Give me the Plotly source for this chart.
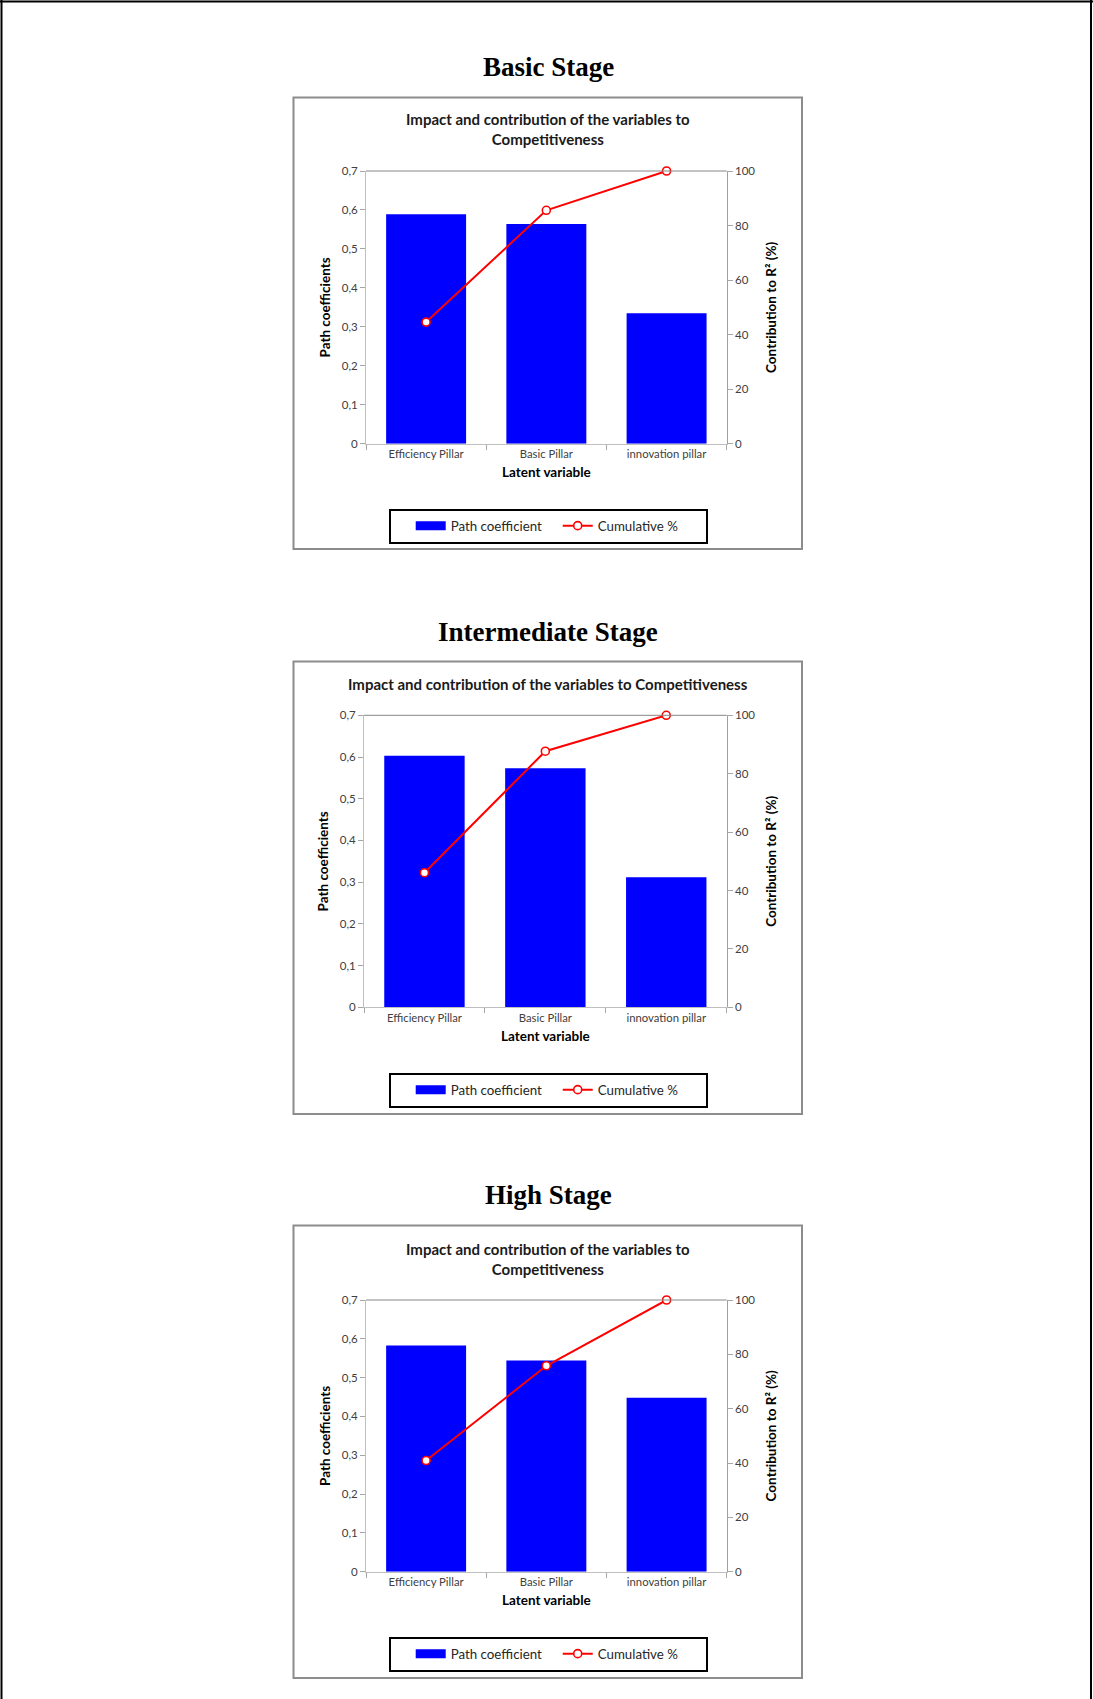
import plotly.graph_objects as go

# ---- data ----
categories = ["Efficiency Pillar", "Basic Pillar", "innovation pillar"]
stage_names = ["Basic Stage", "Intermediate Stage", "High Stage"]
chart_titles = [
    "Impact and contribution of the variables to<br>Competitiveness",
    "Impact and contribution of the variables to Competitiveness",
    "Impact and contribution of the variables to<br>Competitiveness",
]
path_basic = [0.589, 0.564, 0.335]
path_intermediate = [0.603, 0.573, 0.312]
path_high = [0.583, 0.544, 0.448]
cum_basic = [44.6, 85.6, 100]
cum_intermediate = [46.1, 87.7, 100]
cum_high = [40.9, 75.8, 100]

path_values = [path_basic, path_intermediate, path_high]
cum_values = [cum_basic, cum_intermediate, cum_high]

left_ticks = [0, 0.1, 0.2, 0.3, 0.4, 0.5, 0.6, 0.7]
right_ticks = [0, 20, 40, 60, 80, 100]

# ---- page geometry (pixels) ----
W, H = 1093, 1699
BLUE = "#0000FF"
RED = "#FF0000"
TICK_COLOR = "#404040"
TICKMARK = "#a6a6a6"
FONT = "Lato"

# per chart: box (x0, y0, x1, y1), plot area (x0, y0, x1, y1), stage title y,
# chart title y, legend centre y
panels = [
    dict(box=(293.5, 97.5, 802, 549), plot=(366, 171, 726.7, 443.7),
         stage_y=67, title_y=129, legend_y=526),
    dict(box=(293.5, 661.5, 802, 1114), plot=(364, 715.3, 726.7, 1007.3),
         stage_y=632, title_y=684, legend_y=1090),
    dict(box=(293.5, 1225.5, 802, 1678), plot=(366, 1300, 726.7, 1571.7),
         stage_y=1195, title_y=1259, legend_y=1654),
]


def px_x(v):
    return v / W


def px_y(v):
    return 1 - v / H


fig = go.Figure()
shapes = []
annotations = []
layout_axes = {}
n_cat = len(categories)
# category boundaries, where the x tick marks sit
boundaries = [k - 0.5 for k in range(n_cat + 1)]

for i, p in enumerate(panels):
    n = i + 1
    xname = "x" if n == 1 else f"x{n}"
    yl_idx = 2 * i + 1
    yr_idx = 2 * i + 2
    yl = "y" if yl_idx == 1 else f"y{yl_idx}"
    yr = f"y{yr_idx}"
    legend_name = "legend" if n == 1 else f"legend{n}"

    fig.add_trace(go.Bar(
        x=categories, y=path_values[i], xaxis=xname, yaxis=yl,
        marker=dict(color=BLUE, line=dict(width=0)),
        name="Path coefficient", showlegend=False,
    ))
    # legend swatch for the bars (wide flat rectangle)
    fig.add_trace(go.Scatter(
        x=[None], y=[None], xaxis=xname, yaxis=yl, mode="lines",
        line=dict(color=BLUE, width=9), name="Path coefficient",
        legend=legend_name, hoverinfo="skip",
    ))
    fig.add_trace(go.Scatter(
        x=categories, y=cum_values[i], xaxis=xname, yaxis=yr,
        mode="lines+markers", cliponaxis=False,
        line=dict(color=RED, width=2),
        marker=dict(symbol="circle", size=8, color="white",
                    line=dict(color=RED, width=1.6)),
        name="Cumulative %", legend=legend_name,
    ))

    px0, py0, px1, py1 = p["plot"]
    xdom = [px_x(px0), px_x(px1)]
    ydom = [px_y(py1), px_y(py0)]

    xkey = "xaxis" if n == 1 else f"xaxis{n}"
    ylkey = "yaxis" if yl_idx == 1 else f"yaxis{yl_idx}"
    yrkey = f"yaxis{yr_idx}"

    layout_axes[xkey] = dict(
        domain=xdom, anchor=yl, type="category",
        showline=True, linecolor="#bfbfbf", linewidth=1,
        ticks="outside", tickson="boundaries", ticklen=5, tickcolor=TICKMARK,
        tickfont=dict(family=FONT, size=11.3, color=TICK_COLOR),
        showgrid=False, zeroline=False, fixedrange=True,
        title=dict(text="<b>Latent variable</b>", standoff=8,
                   font=dict(family=FONT, size=13.5, color="black")),
    )
    layout_axes[ylkey] = dict(
        domain=ydom, anchor=xname, range=[0, 0.7], tickvals=left_ticks,
        showline=True, linecolor="#bfbfbf", linewidth=1,
        ticks="outside", ticklen=5, tickcolor=TICKMARK,
        tickfont=dict(family=FONT, size=11.5, color=TICK_COLOR),
        showgrid=False, zeroline=False, fixedrange=True,
        title=dict(text="<b>Path coefficients</b>", standoff=8,
                   font=dict(family=FONT, size=13.5, color="black")),
    )
    layout_axes[yrkey] = dict(
        domain=ydom, anchor=xname, overlaying=yl, side="right",
        range=[0, 100], tickvals=right_ticks,
        showline=True, linecolor="#a0a0a0", linewidth=1,
        ticks="outside", ticklen=5, tickcolor=TICKMARK,
        tickfont=dict(family=FONT, size=11.5, color=TICK_COLOR),
        showgrid=False, zeroline=False, fixedrange=True,
        title=dict(text="<b>Contribution to R² (%)</b>", standoff=12,
                   font=dict(family=FONT, size=13.5, color="black")),
    )

    # inner halves of the cross-style tick marks
    xi = 3 + i
    xi_name = f"x{3 + xi}"
    layout_axes[f"xaxis{3 + xi}"] = dict(
        domain=xdom, anchor=yl, overlaying=xname, side="bottom",
        range=[-0.5, n_cat - 0.5], tickvals=boundaries,
        ticks="inside", ticklen=4, tickcolor=TICKMARK,
        showticklabels=False, showline=False, showgrid=False,
        zeroline=False, fixedrange=True,
    )
    layout_axes[f"yaxis{7 + 2 * i}"] = dict(
        domain=ydom, anchor=xname, overlaying=yl, side="left",
        range=[0, 0.7], tickvals=left_ticks,
        ticks="inside", ticklen=4, tickcolor=TICKMARK,
        showticklabels=False, showline=False, showgrid=False,
        zeroline=False, fixedrange=True,
    )
    layout_axes[f"yaxis{8 + 2 * i}"] = dict(
        domain=ydom, anchor=xname, overlaying=yl, side="right",
        range=[0, 100], tickvals=right_ticks,
        ticks="inside", ticklen=4, tickcolor=TICKMARK,
        showticklabels=False, showline=False, showgrid=False,
        zeroline=False, fixedrange=True,
    )

    # legend box; the blank title gives the left inner padding
    layout_axes[legend_name] = dict(
        orientation="h", x=px_x(548), xanchor="center",
        y=px_y(p["legend_y"]), yanchor="middle",
        bordercolor="black", borderwidth=2, bgcolor="white",
        font=dict(family=FONT, size=13.3, color="#262626"),
        entrywidth=102, entrywidthmode="pixels", itemwidth=30,
        title=dict(text="&nbsp;&nbsp;&nbsp;", side="left",
                   font=dict(family=FONT, size=13.3)),
        traceorder="normal",
    )

    # chart frame
    bx0, by0, bx1, by1 = p["box"]
    shapes.append(dict(type="rect", xref="paper", yref="paper",
                       x0=px_x(bx0), x1=px_x(bx1), y0=px_y(by1), y1=px_y(by0),
                       line=dict(color="#8c8c8c", width=2), layer="below"))
    # top border line of the plot area
    shapes.append(dict(type="line", xref=f"{xname} domain", yref=f"{yl} domain",
                       x0=0, x1=1, y0=1, y1=1,
                       line=dict(color="#868686", width=1)))

    annotations.append(dict(
        text=f"<b>{stage_names[i]}</b>", xref="paper", yref="paper",
        x=px_x(548), y=px_y(p["stage_y"]), xanchor="center", yanchor="middle",
        showarrow=False, font=dict(family="Liberation Serif", size=27, color="black"),
    ))
    annotations.append(dict(
        text=f"<b>{chart_titles[i]}</b>", xref="paper", yref="paper",
        x=px_x(547.5), y=px_y(p["title_y"]), xanchor="center", yanchor="middle",
        showarrow=False, font=dict(family=FONT, size=15, color="#1a1a1a"),
    ))

# outer page frame (left, top, right)
for (x0, y0, x1, y1) in [(1.5, 0, 1.5, H), (0, 1.5, W, 1.5), (1091, 0, 1091, H)]:
    shapes.append(dict(type="line", xref="paper", yref="paper",
                       x0=px_x(x0), x1=px_x(x1), y0=px_y(y0), y1=px_y(y1),
                       line=dict(color="black", width=2)))

fig.update_layout(
    width=W, height=H,
    margin=dict(l=0, r=0, t=0, b=0, autoexpand=False),
    paper_bgcolor="white", plot_bgcolor="white",
    separators=", ", bargap=0.335,
    font=dict(family=FONT),
    shapes=shapes, annotations=annotations,
    **layout_axes,
)

fig.write_html("out.html")
